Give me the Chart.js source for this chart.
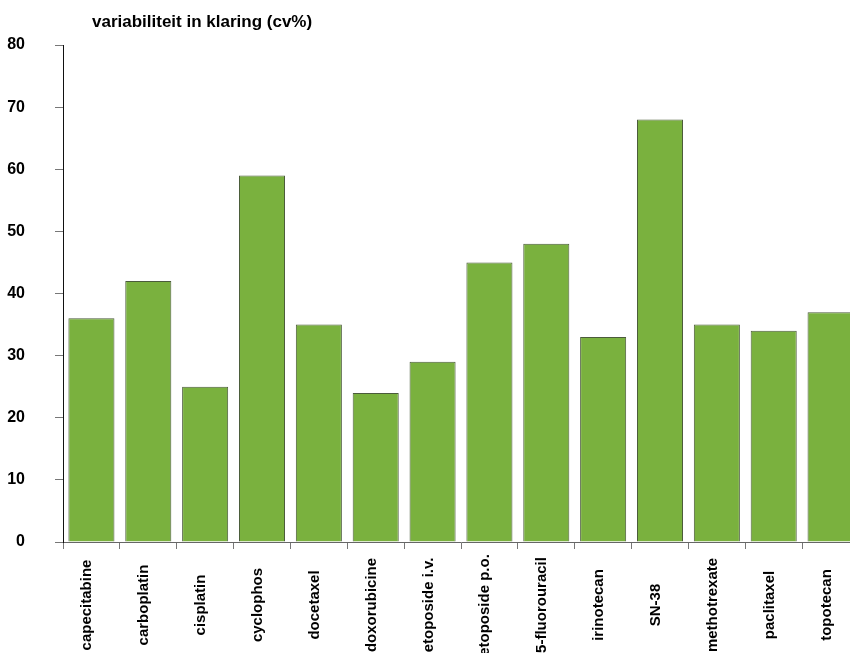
<!DOCTYPE html>
<html>
<head>
<meta charset="utf-8">
<script src="https://cdn.jsdelivr.net/npm/chart.js@4/dist/chart.umd.min.js"></script>
<style>
  html, body { margin: 0; padding: 0; background: #fff; overflow: hidden; }
  #wrap { width: 862px; height: 653px; }
</style>
</head>
<body>
<div id="wrap"><canvas id="c" width="862" height="653"></canvas></div>
<script>
const titleText = 'variabiliteit in klaring (cv%)';
const categories = ['capecitabine', 'carboplatin', 'cisplatin', 'cyclophos', 'docetaxel', 'doxorubicine',
  'etoposide i.v.', 'etoposide p.o.', '5-fluorouracil', 'irinotecan', 'SN-38', 'methotrexate', 'paclitaxel', 'topotecan'];
const cvValues = [36, 42, 25, 59, 35, 24, 29, 45, 48, 33, 68, 35, 34, 37];
const yTicks = [0, 10, 20, 30, 40, 50, 60, 70, 80];

const labelPlugin = {
  id: 'rotLabels',
  afterDraw(chart) {
    const ctx = chart.ctx;
    const xs = chart.scales.x;
    ctx.save();
    ctx.font = 'bold 15px "Liberation Sans", Arial, sans-serif';
    ctx.fillStyle = '#000';
    ctx.textAlign = 'center';
    ctx.textBaseline = 'alphabetic';
    categories.forEach((lab, i) => {
      const x = xs.getPixelForValue(i);
      ctx.save();
      ctx.translate(x, 605);
      ctx.rotate(-Math.PI / 2);
      ctx.fillText(lab, 0, 0);
      ctx.restore();
    });
    ctx.font = 'bold 17px "Liberation Sans", Arial, sans-serif';
    ctx.textAlign = 'left';
    ctx.textBaseline = 'alphabetic';
    ctx.fillText(titleText, 92, 27);
    ctx.restore();
  }
};

new Chart(document.getElementById('c'), {
  type: 'bar',
  data: {
    labels: categories,
    datasets: [{
      data: cvValues,
      backgroundColor: '#7ab13e',
      borderColor: '#4b5b3b',
      borderWidth: 1,
      categoryPercentage: 1.0,
      barPercentage: 0.81
    }]
  },
  options: {
    responsive: false,
    animation: false,
    devicePixelRatio: 1,
    layout: { padding: { left: 7, top: 45, right: 3, bottom: 104 } },
    plugins: { legend: { display: false }, tooltip: { enabled: false }, title: { display: false } },
    scales: {
      x: {
        type: 'category',
        offset: true,
        grid: { drawOnChartArea: false, drawTicks: true, tickLength: 7, color: '#777', offset: true },
        border: { display: true, color: '#666', width: 1 },
        ticks: { display: false }
      },
      y: {
        min: 0, max: 80,
        afterBuildTicks(scale) { scale.ticks = yTicks.map(v => ({ value: v })); },
        afterFit(scale) { scale.width = 56; },
        grid: { drawOnChartArea: false, drawTicks: true, tickLength: 8, color: '#777' },
        border: { display: true, color: '#111', width: 1 },
        ticks: {
          padding: 30,
          color: '#000',
          font: { family: '"Liberation Sans", Arial, sans-serif', size: 16, weight: 'bold' }
        }
      }
    }
  },
  plugins: [labelPlugin]
});
</script>
</body>
</html>
